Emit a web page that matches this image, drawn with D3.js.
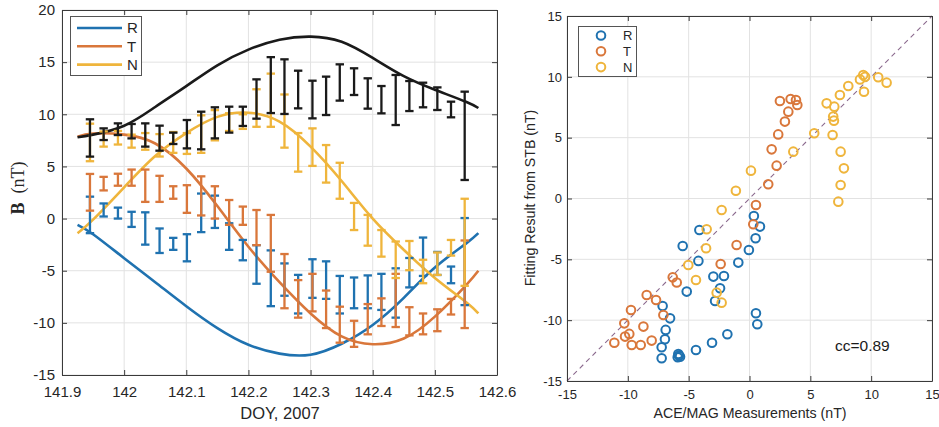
<!DOCTYPE html>
<html>
<head>
<meta charset="utf-8">
<script src="https://cdn.jsdelivr.net/npm/d3@7"></script>
<style>
  body { margin: 0; background: #ffffff; }
  svg { display: block; }
</style>
</head>
<body>
<script>
// ---------------- DATA ----------------
const seriesNames = ["R", "T", "N"];
const seriesColors = ["#1f72b0", "#d9773b", "#efb53c"];
const blackColor = "#1a1a1a";

// times of the 32-min averaged ACE/MAG error bars (DOY 2007)
const barTimes = [141.945, 141.967, 141.990, 142.012, 142.034, 142.057, 142.079, 142.101,
  142.124, 142.146, 142.169, 142.191, 142.213, 142.236, 142.258, 142.280, 142.303, 142.325,
  142.347, 142.370, 142.392, 142.414, 142.437, 142.459, 142.481, 142.504, 142.526, 142.548];

// error bar ranges [low, high] (nT)
const barR = [[-1.4, 2.1], [0.2, 1.45], [0.0, 1.05], [-0.8, 0.65], [-2.5, 0.6], [-3.3, -0.95],
  [-3.0, -1.85], [-4.1, -1.5], [-1.3, 2.4], [-0.9, 2.2], [-3.0, -0.45], [-4.0, -2.05],
  [-6.25, -2.55], [-8.4, -3.05], [-7.4, -4.3], [-9.1, -5.4], [-7.6, -3.9], [-7.7, -4.1],
  [-9.1, -5.5], [-8.6, -5.65], [-8.6, -5.45], [-8.76, -5.3], [-9.5, -4.77], [-6.6, -3.78],
  [-5.5, -1.82], [-5.41, -3.2], [-6.2, -4.6], [-8.3, 0.05]];
const barT = [[0.76, 4.28], [2.7, 4.0], [3.15, 4.3], [3.15, 4.7], [1.6, 4.7], [1.6, 4.1],
  [1.9, 3.1], [0.55, 3.2], [0.3, 4.05], [0.0, 3.1], [-0.6, 1.78], [-0.6, 1.15],
  [-2.55, 0.82], [-5.1, 0.35], [-8.6, -3.4], [-9.5, -5.9], [-8.9, -5.3], [-10.5, -6.9],
  [-11.9, -8.45], [-12.3, -9.8], [-11.1, -8.2], [-10.3, -7.65], [-10.4, -5.3], [-11.2, -8.5],
  [-11.1, -9.1], [-10.8, -8.7], [-9.2, -7.7], [-10.5, -2.1]];
const barN = [[5.5, 9.1], [6.9, 8.35], [7.1, 8.4], [6.8, 8.05], [6.6, 8.2], [5.95, 8.1],
  [6.3, 8.3], [6.2, 8.2], [6.3, 9.9], [7.5, 10.4], [8.4, 10.1], [8.6, 10.0],
  [8.8, 12.4], [8.8, 13.9], [6.8, 11.9], [4.5, 8.2], [5.05, 8.65], [3.45, 7.05],
  [1.9, 5.35], [-1.1, 1.5], [-2.6, 0.35], [-3.65, -1.1], [-5.7, -2.2], [-4.95, -2.15],
  [-6.2, -3.95], [-5.4, -3.25], [-3.55, -2.05], [-6.45, 1.9]];
const barB = [[5.94, 9.52], [7.53, 8.65], [8.01, 9.13], [7.69, 9.07], [6.9, 9.13], [6.51, 8.91],
  [7.15, 8.24], [6.73, 9.45], [6.64, 10.25], [7.69, 10.67], [8.24, 10.73], [8.88, 10.73],
  [9.58, 13.35], [10.12, 15.48], [10.03, 15.27], [10.57, 14.18], [9.61, 13.22], [9.93, 13.61],
  [11.31, 14.79], [11.85, 14.41], [10.54, 13.45], [10.09, 12.71], [8.97, 13.77], [10.31, 13.19],
  [10.67, 13.03], [10.41, 12.58], [9.71, 11.21], [3.7, 12.17]];

// STB fitted curves
const curveTimes = [141.925, 141.95, 142.0, 142.05, 142.1, 142.15, 142.2, 142.25, 142.3,
  142.35, 142.4, 142.45, 142.5, 142.55, 142.57];
const fitB = [7.8, 8.05, 8.9, 10.7, 12.7, 14.7, 16.2, 17.15, 17.45, 16.95, 15.4, 13.65, 12.35, 11.2, 10.6];
const fitR = [-0.6, -1.5, -3.8, -6.1, -8.4, -10.5, -12.1, -12.95, -13.05, -12.0, -10.2, -7.6, -4.7, -2.4, -1.4];
const fitT = [7.85, 8.15, 8.05, 7.2, 4.8, 1.2, -2.7, -6.1, -9.1, -11.3, -12.05, -11.5, -9.4, -6.4, -5.0];
const fitN = [-1.4, -0.1, 3.0, 6.0, 8.2, 9.75, 10.15, 9.3, 6.9, 3.6, 0.0, -3.0, -5.7, -8.0, -9.1];

// scatter: [ACE/MAG measurement, STB fitting result]
const scatR = [[0.36, -1.44], [0.86, -2.31], [0.5, -3.27], [-0.05, -4.23], [-0.92, -5.27],
  [-2.1, -6.37], [-2.42, -7.38], [-2.83, -8.42], [0.53, -9.43], [0.64, -10.34], [-1.82, -11.16],
  [-3.08, -11.85], [-4.4, -12.45], [-5.85, -12.78], [-5.71, -13.0], [-5.8, -12.9], [-5.9, -13.05],
  [-7.22, -13.13], [-7.22, -12.23], [-6.95, -11.57], [-6.89, -10.8], [-6.53, -9.85],
  [-7.14, -8.83], [-5.16, -7.65], [-2.97, -6.42], [-4.2, -5.13], [-5.49, -3.9], [-4.12, -2.59]];
const scatT = [[2.5, 8.01], [3.38, 8.18], [3.82, 8.1], [3.93, 7.69], [3.19, 7.14], [2.91, 6.32],
  [2.36, 5.27], [1.82, 4.04], [2.23, 2.7], [1.54, 1.17], [0.53, -0.53], [0.31, -2.12],
  [-1.06, -3.82], [-2.37, -5.38], [-5.98, -6.91], [-7.68, -8.34], [-7.08, -9.57], [-8.72, -10.53],
  [-10.29, -10.26], [-11.11, -11.85], [-9.68, -12.04], [-8.94, -12.04], [-8.04, -11.68],
  [-9.88, -11.13], [-10.23, -11.35], [-9.74, -9.16], [-8.45, -7.93], [-6.31, -6.48]];
const scatN = [[7.3, -0.26], [7.49, 1.11], [7.76, 2.48], [7.49, 3.85], [6.83, 5.22], [6.94, 6.4],
  [6.88, 6.73], [6.97, 7.55], [7.43, 8.51], [8.12, 9.25], [9.08, 9.79], [9.35, 10.15],
  [9.5, 10.0], [10.58, 9.96], [11.27, 9.52], [9.41, 8.78], [6.34, 7.82], [5.32, 5.36],
  [3.6, 3.85], [0.12, 2.29], [-1.12, 0.64], [-2.29, -0.95], [-3.52, -2.53], [-3.57, -4.09],
  [-5.03, -5.46], [-4.4, -6.7], [-2.7, -7.74], [-2.29, -8.56]];
const ccText = "cc=0.89";

// ticks
const xTicksL = [141.9, 142, 142.1, 142.2, 142.3, 142.4, 142.5, 142.6];
const xTickLabelsL = ["141.9", "142", "142.1", "142.2", "142.3", "142.4", "142.5", "142.6"];
const yTicksL = [-15, -10, -5, 0, 5, 10, 15, 20];
const yTickLabelsL = ["-15", "-10", "-5", "0", "5", "10", "15", "20"];
const ticksR = [-15, -10, -5, 0, 5, 10, 15];
const tickLabelsR = ["-15", "-10", "-5", "0", "5", "10", "15"];

// ---------------- DRAWING ----------------
const FONT = "'Liberation Sans', Arial, Helvetica, sans-serif";
const TEXT = "#262626";
const GRID = "#e2e2e2";
const AXIS = "#3a3a3a";

const svg = d3.select("body").append("svg").attr("width", 939).attr("height", 427);

function drawFrame(g, x, y, xt, yt) {
  const [x0, x1] = x.range();
  const [y0, y1] = y.range();
  g.append("g").selectAll("line").data(xt).join("line")
    .attr("x1", d => x(d)).attr("x2", d => x(d)).attr("y1", y1).attr("y2", y0)
    .attr("stroke", GRID).attr("stroke-width", 1);
  g.append("g").selectAll("line").data(yt).join("line")
    .attr("y1", d => y(d)).attr("y2", d => y(d)).attr("x1", x0).attr("x2", x1)
    .attr("stroke", GRID).attr("stroke-width", 1);
}

function drawAxes(g, x, y, xt, xl, yt, yl, fs, padX, padY) {
  const [x0, x1] = x.range();
  const [y0, y1] = y.range();
  const style = sel => {
    sel.select(".domain").attr("stroke", AXIS).attr("stroke-width", 1);
    sel.selectAll(".tick line").attr("stroke", AXIS).attr("stroke-width", 1);
    sel.selectAll(".tick text").attr("fill", TEXT).attr("font-size", fs).attr("font-family", FONT);
  };
  g.append("g").attr("transform", `translate(0,${y0})`)
    .call(d3.axisBottom(x).tickValues(xt).tickFormat((d, i) => xl[i]).tickSize(-5).tickSizeOuter(0).tickPadding(padX))
    .call(style);
  g.append("g").attr("transform", `translate(0,${y1})`)
    .call(d3.axisTop(x).tickValues(xt).tickFormat("").tickSize(-5).tickSizeOuter(0))
    .call(style);
  g.append("g").attr("transform", `translate(${x0},0)`)
    .call(d3.axisLeft(y).tickValues(yt).tickFormat((d, i) => yl[i]).tickSize(-5).tickSizeOuter(0).tickPadding(padY))
    .call(style);
  g.append("g").attr("transform", `translate(${x1},0)`)
    .call(d3.axisRight(y).tickValues(yt).tickFormat("").tickSize(-5).tickSizeOuter(0))
    .call(style);
  g.selectAll(".domain").attr("fill", "none");
}

// ===== Left panel =====
const xL = d3.scaleLinear().domain([141.9, 142.6]).range([62, 497]);
const yL = d3.scaleLinear().domain([-15, 20]).range([375, 10]);
const gL = svg.append("g");
drawFrame(gL, xL, yL, xTicksL, yTicksL);

const line = d3.line().x(d => xL(d[0])).y(d => yL(d[1])).curve(d3.curveNatural);
[fitR, fitT, fitN].forEach((f, i) => {
  gL.append("path").datum(curveTimes.map((t, k) => [t, f[k]]))
    .attr("d", line).attr("fill", "none").attr("stroke", seriesColors[i]).attr("stroke-width", 2.6);
});
gL.append("path").datum(curveTimes.map((t, k) => [t, fitB[k]]))
  .attr("d", line).attr("fill", "none").attr("stroke", blackColor).attr("stroke-width", 2.6);

function errorBars(data, color) {
  const g = gL.append("g").attr("stroke", color).attr("stroke-width", 2.3).attr("fill", "none");
  const items = barTimes.map((t, k) => ({ t, lo: data[k][0], hi: data[k][1] }));
  const cw = 4.2;
  g.selectAll("line.v").data(items).join("line").attr("class", "v")
    .attr("x1", d => xL(d.t)).attr("x2", d => xL(d.t)).attr("y1", d => yL(d.lo)).attr("y2", d => yL(d.hi));
  g.selectAll("line.lo").data(items).join("line").attr("class", "lo")
    .attr("x1", d => xL(d.t) - cw).attr("x2", d => xL(d.t) + cw).attr("y1", d => yL(d.lo)).attr("y2", d => yL(d.lo));
  g.selectAll("line.hi").data(items).join("line").attr("class", "hi")
    .attr("x1", d => xL(d.t) - cw).attr("x2", d => xL(d.t) + cw).attr("y1", d => yL(d.hi)).attr("y2", d => yL(d.hi));
}
errorBars(barR, seriesColors[0]);
errorBars(barT, seriesColors[1]);
errorBars(barN, seriesColors[2]);
errorBars(barB, blackColor);

drawAxes(gL, xL, yL, xTicksL, xTickLabelsL, yTicksL, yTickLabelsL, "15px", 11, 7);

// left legend
const legL = gL.append("g");
legL.append("rect").attr("x", 70.5).attr("y", 16.5).attr("width", 71).attr("height", 59)
  .attr("fill", "#fff").attr("stroke", "#555").attr("stroke-width", 1);
seriesNames.forEach((n, i) => {
  const yy = 28 + i * 18.3;
  legL.append("line").attr("x1", 77).attr("x2", 122).attr("y1", yy).attr("y2", yy)
    .attr("stroke", seriesColors[i]).attr("stroke-width", 2.6);
  legL.append("text").attr("x", 127).attr("y", yy).attr("dy", "0.35em")
    .attr("font-family", FONT).attr("font-size", "15px").attr("fill", TEXT).text(n);
});

// left labels
svg.append("text").attr("x", 280).attr("y", 419).attr("text-anchor", "middle")
  .attr("font-family", FONT).attr("font-size", "16.5px").attr("fill", TEXT).text("DOY, 2007");
const yLab = svg.append("text").attr("transform", "translate(24,188) rotate(-90)")
  .attr("text-anchor", "middle").attr("font-family", "'Liberation Serif', 'DejaVu Serif', serif")
  .attr("font-size", "18px").attr("fill", TEXT);
yLab.append("tspan").attr("font-weight", "bold").text("B");
yLab.append("tspan").text("\u2002(nT)");

// ===== Right panel =====
const xR = d3.scaleLinear().domain([-15, 15]).range([567, 932]);
const yR = d3.scaleLinear().domain([-15, 15]).range([381, 16]);
const gR = svg.append("g");
drawFrame(gR, xR, yR, ticksR, ticksR);

gR.append("line").attr("x1", xR(-15)).attr("y1", yR(-15)).attr("x2", xR(15)).attr("y2", yR(15))
  .attr("stroke", "#8b6a8e").attr("stroke-width", 1.1).attr("stroke-dasharray", "5,4");

[scatR, scatT, scatN].forEach((pts, i) => {
  gR.append("g").selectAll("circle").data(pts).join("circle")
    .attr("cx", d => xR(d[0])).attr("cy", d => yR(d[1])).attr("r", 4.3)
    .attr("fill", "none").attr("stroke", seriesColors[i]).attr("stroke-width", 2);
});

drawAxes(gR, xR, yR, ticksR, tickLabelsR, ticksR, tickLabelsR, "13px", 9, 5);

gR.append("text").attr("x", 835).attr("y", 351).attr("font-family", FONT)
  .attr("font-size", "15.5px").attr("fill", "#1a1a1a").text(ccText);

// right legend
const legR = gR.append("g");
legR.append("rect").attr("x", 578.5).attr("y", 26.5).attr("width", 58).attr("height", 50)
  .attr("fill", "#fff").attr("stroke", "#555").attr("stroke-width", 1);
seriesNames.forEach((n, i) => {
  const yy = 35.5 + i * 15.8;
  legR.append("circle").attr("cx", 601).attr("cy", yy).attr("r", 4.3)
    .attr("fill", "none").attr("stroke", seriesColors[i]).attr("stroke-width", 2);
  legR.append("text").attr("x", 623).attr("y", yy).attr("dy", "0.35em")
    .attr("font-family", FONT).attr("font-size", "13px").attr("fill", TEXT).text(n);
});

// right labels
svg.append("text").attr("x", 750).attr("y", 418).attr("text-anchor", "middle")
  .attr("font-family", FONT).attr("font-size", "14.2px").attr("fill", TEXT).text("ACE/MAG Measurements (nT)");
svg.append("text").attr("transform", "translate(535,198) rotate(-90)").attr("text-anchor", "middle")
  .attr("font-family", FONT).attr("font-size", "14.2px").attr("fill", TEXT).text("Fitting Result from STB (nT)");
</script>
</body>
</html>
